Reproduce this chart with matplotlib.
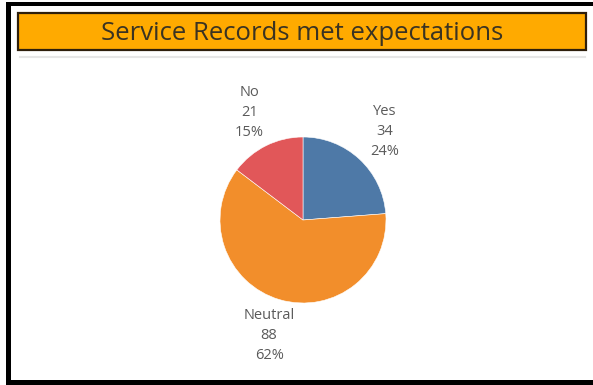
import matplotlib.pyplot as plt
from matplotlib.patches import Rectangle
from matplotlib.lines import Line2D

# data
categories = ["Yes", "Neutral", "No"]
counts = [34, 88, 21]
colors = ["#4e79a7", "#f28e2b", "#e15759"]
title = "Service Records met expectations"

W, H = 593, 385
plt.rcParams['font.family'] = ['Open Sans', 'DejaVu Sans']

fig = plt.figure(figsize=(W / 100, H / 100), dpi=100)
fig.patch.set_facecolor("white")


def px(x, y):
    # pixel coords (top-left origin) -> figure fraction
    return x / W, 1 - y / H


# outer black frame (left, top, bottom edges)
for (x0, y0, x1, y1) in [(6, 2, 11, 385), (6, 2, 593, 6), (6, 380, 593, 385)]:
    fx0, fy1 = px(x0, y0)
    fx1, fy0 = px(x1, y1)
    fig.patches.append(Rectangle((fx0, fy0), fx1 - fx0, fy1 - fy0,
                                 transform=fig.transFigure, facecolor="black",
                                 edgecolor="none", zorder=5))

# title banner
bx0, by1 = px(18, 13)
bx1, by0 = px(586, 50)
fig.patches.append(Rectangle((bx0, by0), bx1 - bx0, by1 - by0,
                             transform=fig.transFigure, facecolor="#ffaa00",
                             edgecolor="#2e1f0c", linewidth=1.6, zorder=4))
fig.text((bx0 + bx1) / 2, (by0 + by1) / 2 - 0.006, title, ha="center", va="center",
         fontsize=18.5, color="#3a3322", zorder=6)

# thin grey divider under banner
lx0, ly = px(20, 57)
lx1, _ = px(585, 57)
fig.lines.append(Line2D([lx0, lx1], [ly, ly], transform=fig.transFigure,
                        color="#e6e6e6", linewidth=1.5))

# pie
cx, cy, r = 303, 220, 83
ax_l, ax_t = px(cx - r, cy - r)
ax_r, ax_b = px(cx + r, cy + r)
ax = fig.add_axes([ax_l, ax_b, ax_r - ax_l, ax_t - ax_b])

total = sum(counts)
labels = [f"{c}\n{n}\n{round(n / total * 100)}%" for c, n in zip(categories, counts)]
wedges, texts = ax.pie(counts, colors=colors, startangle=90, counterclock=False,
                       labels=labels, labeldistance=1.45,
                       wedgeprops=dict(linewidth=0.4, edgecolor="white"),
                       textprops=dict(fontsize=10.5, color="#5a5a5a", linespacing=1.45))
for t in texts:
    t.set_ha("center")
    t.set_va("center")
ax.set_xlim(-1, 1)
ax.set_ylim(-1, 1)
ax.set_aspect("equal")
ax.axis("off")

fig.savefig("out.png", dpi=100)
